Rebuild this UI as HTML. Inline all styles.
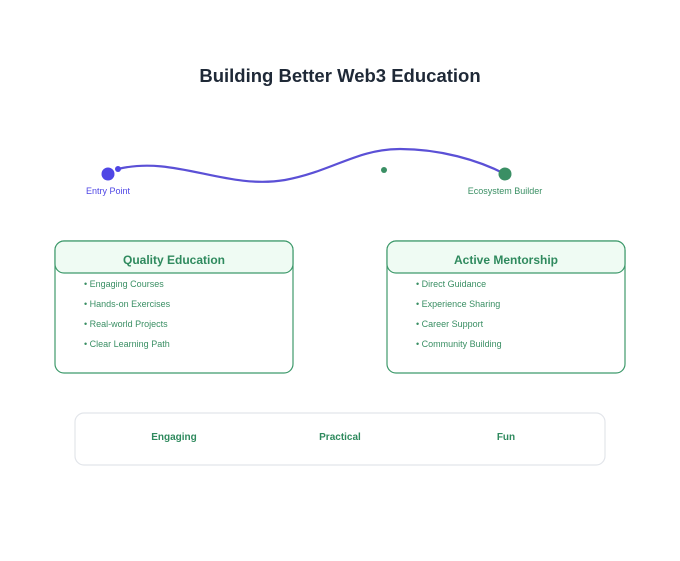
<!DOCTYPE html>
<html><head><style>
body{margin:0;background:#fff;font-family:"Liberation Sans",sans-serif}
</style></head><body>
<svg width="680" height="556" viewBox="0 0 680 556" xmlns="http://www.w3.org/2000/svg" font-family="Liberation Sans, sans-serif">
<text x="340" y="82" text-anchor="middle" font-size="18.5" font-weight="bold" fill="#1f2937">Building Better Web3 Education</text>
<path d="M118,169 C175,155 225,190 285,180 C333,171 357,149 400,149 C440,149 478,160 505,174" fill="none" stroke="#5b50d6" stroke-width="2.2"/>
<circle cx="108" cy="174" r="6.5" fill="#4f46e5"/>
<circle cx="118" cy="169" r="3" fill="#4f46e5"/>
<circle cx="384" cy="170" r="3" fill="#3a8f64"/>
<circle cx="505" cy="174" r="6.5" fill="#3a8f64"/>
<text x="108" y="194" text-anchor="middle" font-size="9" fill="#4f46e5">Entry Point</text>
<text x="505" y="194" text-anchor="middle" font-size="9" fill="#3a8f64">Ecosystem Builder</text>
<g stroke="#3f9a6c" stroke-width="1.2">
<rect x="55" y="241" width="238" height="132" rx="9" fill="#fff"/>
<rect x="55" y="241" width="238" height="32" rx="9" fill="#effbf3"/>
<rect x="387" y="241" width="238" height="132" rx="9" fill="#fff"/>
<rect x="387" y="241" width="238" height="32" rx="9" fill="#effbf3"/>
</g>
<g fill="#2f8a5e">
<text x="174" y="264" text-anchor="middle" font-size="12" font-weight="bold">Quality Education</text>
<text x="506" y="264" text-anchor="middle" font-size="12" font-weight="bold">Active Mentorship</text>
<g font-size="9" fill="#3a8f64">
<text x="84" y="287">• Engaging Courses</text>
<text x="84" y="307">• Hands-on Exercises</text>
<text x="84" y="327">• Real-world Projects</text>
<text x="84" y="347">• Clear Learning Path</text>
<text x="416" y="287">• Direct Guidance</text>
<text x="416" y="307">• Experience Sharing</text>
<text x="416" y="327">• Career Support</text>
<text x="416" y="347">• Community Building</text>
</g>
</g>
<rect x="75" y="413" width="530" height="52" rx="9" fill="#fff" stroke="#e2e5ea" stroke-width="1.2"/>
<g font-size="10" font-weight="bold" fill="#2f8a5e" text-anchor="middle">
<text x="174" y="440">Engaging</text>
<text x="340" y="440">Practical</text>
<text x="506" y="440">Fun</text>
</g>
</svg>
</body></html>
